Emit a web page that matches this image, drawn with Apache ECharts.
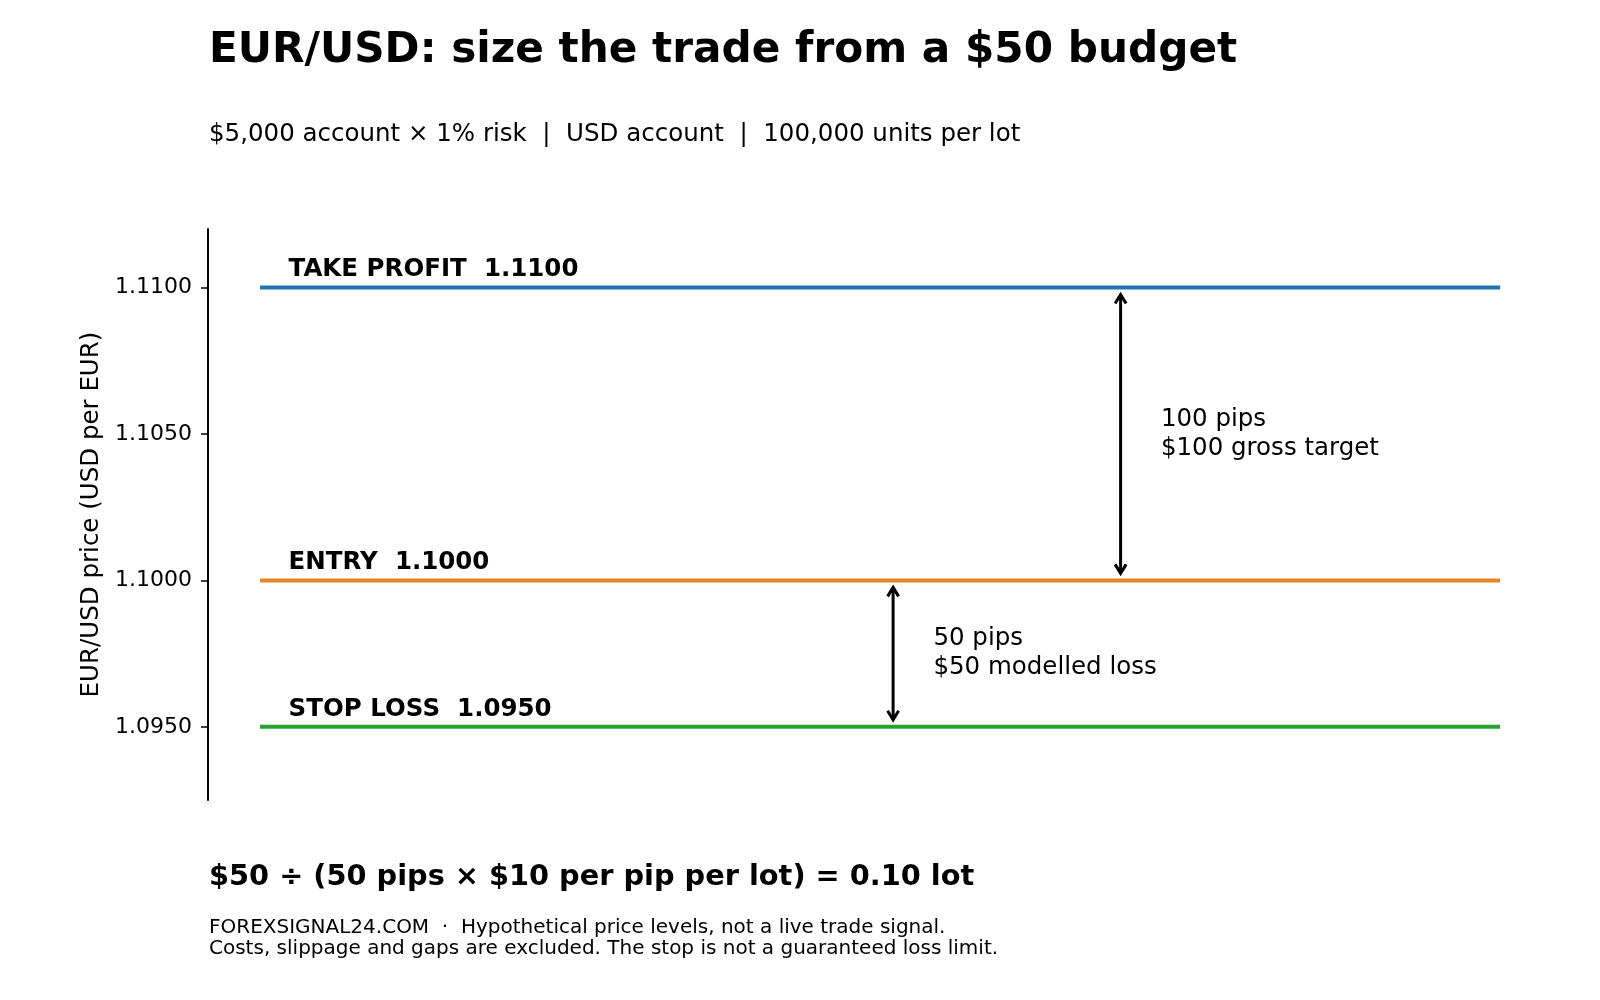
<!DOCTYPE html>
<html>
<head>
<meta charset="utf-8">
<title>EUR/USD trade sizing</title>
<script src="https://cdn.jsdelivr.net/npm/echarts@6/dist/echarts.min.js"></script>
<style>
  html, body { margin: 0; padding: 0; background: #fff; }
  #chart { width: 1600px; height: 1000px; }
</style>
</head>
<body>
<div id="chart"></div>
<script>
// price levels of the trade
var levelNames = ['TAKE PROFIT', 'ENTRY', 'STOP LOSS'];
var levelPrices = [1.1100, 1.1000, 1.0950];
var levelSpan = [4, 99.4];      // x extent of the level lines (0-100 scale)
var labelX = 6.2;

// distance arrows: [x, from price, to price]
var arrowX = [70.2, 52.7];
var arrowFrom = [1.1100, 1.1000];
var arrowTo = [1.1000, 1.0950];
var noteX = [73.3, 55.8];
var notes = ['100 pips\n$100 gross target', '50 pips\n$50 modelled loss'];

// y axis
var yTicks = [1.0950, 1.1000, 1.1050, 1.1100];
var yMin = 1.0925, yMax = 1.1120;

var colors = ['#1f77b4', '#e8872a', '#2ca02c'];
var FONT = 'DejaVu Sans';

var myChart = echarts.init(document.getElementById('chart'));

var series = [];
levelPrices.forEach(function (p, i) {
    series.push({
        name: levelNames[i],
        type: 'line',
        data: [[levelSpan[0], p], [levelSpan[1], p]],
        symbol: 'none',
        silent: true,
        lineStyle: { color: colors[i], width: 4 },
        z: 2
    });
});

// bold labels just above each line
series.push({
    type: 'scatter',
    symbolSize: 0,
    silent: true,
    itemStyle: { opacity: 1, color: 'transparent' },
    data: levelPrices.map(function (p) { return [labelX, p]; }),
    label: {
        show: true,
        position: 'top',
        align: 'left',
        distance: 5,
        color: '#000',
        fontFamily: FONT,
        fontWeight: 'bold',
        fontSize: 24.5,
        formatter: function (pr) {
            return levelNames[pr.dataIndex] + '  ' + levelPrices[pr.dataIndex].toFixed(4);
        }
    }
});

// double-headed arrows with notes
series.push({
    type: 'custom',
    silent: true,
    data: arrowX.map(function (x, i) { return [x, arrowFrom[i], arrowTo[i], noteX[i]]; }),
    renderItem: function (params, api) {
        var top = api.coord([api.value(0), api.value(1)]);
        var bot = api.coord([api.value(0), api.value(2)]);
        var note = api.coord([api.value(3), (api.value(1) + api.value(2)) / 2]);
        var gap = 7, head = 9, half = 5.5;
        var px = top[0], ty = top[1] + gap, by = bot[1] - gap;
        var st = { stroke: '#000', lineWidth: 3, fill: null };
        return {
            type: 'group',
            children: [
                { type: 'line', shape: { x1: px, y1: ty + 1, x2: px, y2: by - 1 }, style: st },
                { type: 'polyline', shape: { points: [[px - half, ty + head], [px, ty], [px + half, ty + head]] }, style: st },
                { type: 'polyline', shape: { points: [[px - half, by - head], [px, by], [px + half, by - head]] }, style: st },
                {
                    type: 'text', x: note[0], y: note[1],
                    style: {
                        text: notes[params.dataIndex],
                        fill: '#000',
                        font: '24.5px "DejaVu Sans"',
                        verticalAlign: 'middle',
                        lineHeight: 29
                    }
                }
            ]
        };
    }
});

var option = {
    backgroundColor: '#fff',
    animation: false,
    title: [
        {
            text: 'EUR/USD: size the trade from a $50 budget',
            left: 204, top: 25,
            textStyle: { fontFamily: FONT, fontWeight: 'bold', fontSize: 42.2, color: '#000' }
        },
        {
            text: '$5,000 account \u00d7 1% risk  |  USD account  |  100,000 units per lot',
            left: 204, top: 117,
            textStyle: { fontFamily: FONT, fontWeight: 'normal', fontSize: 24.5, color: '#000' }
        },
        {
            text: '$50 \u00f7 (50 pips \u00d7 $10 per pip per lot) = 0.10 lot',
            left: 204, top: 858,
            textStyle: { fontFamily: FONT, fontWeight: 'bold', fontSize: 28.8, color: '#000' }
        },
        {
            text: 'FOREXSIGNAL24.COM  \u00b7  Hypothetical price levels, not a live trade signal.\nCosts, slippage and gaps are excluded. The stop is not a guaranteed loss limit.',
            left: 204, top: 912,
            textStyle: { fontFamily: FONT, fontWeight: 'normal', fontSize: 20, lineHeight: 21.5, color: '#000' }
        }
    ],
    grid: { left: 208, right: 92, top: 229, bottom: 200 },
    xAxis: {
        type: 'value', min: 0, max: 100, show: false
    },
    yAxis: {
        type: 'value',
        min: yMin, max: yMax,
        name: 'EUR/USD price (USD per EUR)',
        nameLocation: 'middle',
        nameGap: 102,
        nameTextStyle: { fontFamily: FONT, fontSize: 24.5, color: '#000' },
        axisLine: { show: true, lineStyle: { color: '#000', width: 2 } },
        axisTick: { show: true, length: 7, lineStyle: { color: '#000', width: 1.5 }, customValues: yTicks },
        axisLabel: {
            fontFamily: FONT, fontSize: 22, color: '#000', margin: 16,
            customValues: yTicks,
            formatter: function (v) { return v.toFixed(4); }
        },
        splitLine: { show: false }
    },
    series: series
};

myChart.setOption(option);
</script>
</body>
</html>
